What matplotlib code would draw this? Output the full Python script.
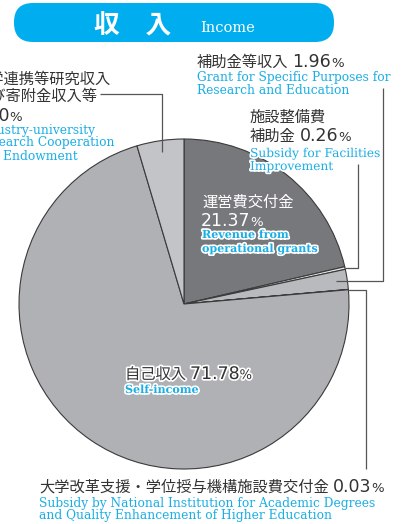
import numpy as np
import matplotlib.pyplot as plt
import matplotlib.patheffects as pe
from matplotlib.patches import FancyBboxPatch

W, H = 404, 524

# revenue shares, clockwise from 12 o'clock
labels_jp = ['運営費交付金', '施設整備費補助金', '補助金等収入',
             '大学改革支援・学位授与機構施設費交付金', '自己収入',
             '産学連携等研究収入及び寄附金収入等']
shares = [21.37, 0.26, 1.96, 0.03, 71.78, 4.60]
pct_txt = ['21.37', '0.26', '1.96', '0.03', '71.78', '4.60']
colors = ['#77787b', '#e4e4e6', '#b9babd', '#ffffff', '#b0b1b4', '#c3c4c7']

JP = ['Noto Sans CJK JP', 'DejaVu Sans']
NUM = 'DejaVu Sans'
EN = 'DejaVu Serif'
CYAN = '#1aaee6'
INK = '#333333'

fig = plt.figure(figsize=(W / 100, H / 100), dpi=100)

# pie: centre (184,304) radius 165 px
cx, cy, R = 184, 304, 165
ax = fig.add_axes([(cx - R) / W, (H - cy - R) / H, 2 * R / W, 2 * R / H], zorder=1)
wedges, _ = ax.pie(shares, colors=colors, startangle=90, counterclock=False,
                   wedgeprops=dict(edgecolor='#3a3a3a', linewidth=0.8))
ax.set_xlim(-1, 1)
ax.set_ylim(-1, 1)

top = fig.add_axes([0, 0, 1, 1], zorder=2)
top.set_xlim(0, W)
top.set_ylim(H, 0)
top.axis('off')

# title banner
top.add_patch(FancyBboxPatch((14, 3), 320, 39, boxstyle='round,pad=0,rounding_size=19',
                             facecolor='#00aeef', edgecolor='none'))
top.text(133, 33, '収　入', color='white', fontsize=18.5, fontweight='bold',
         family=JP, ha='center', va='baseline')
top.text(200, 32, 'Income', color='white', fontsize=10.5, family=EN, va='baseline')


def anchor(i, r):
    w = wedges[i]
    a = np.deg2rad((w.theta1 + w.theta2) / 2)
    return cx + R * r * np.cos(a), cy - R * r * np.sin(a)


def leader(i, r, pts):
    x0, y0 = anchor(i, r)
    xs = [x0] + [p[0] for p in pts]
    ys = [y0] + [p[1] for p in pts]
    top.plot(xs, ys, color='#555555', lw=0.9, solid_capstyle='butt')


x1, y1 = anchor(1, 1.0)
leader(1, 1.0, [(358, y1), (358, 164)])
x2, y2 = anchor(2, 0.93)
leader(2, 0.93, [(383, y2), (383, 88)])
x3, y3 = anchor(3, 1.0)
leader(3, 1.0, [(366, y3), (366, 469)])
x5, y5 = anchor(5, 0.93)
leader(5, 0.93, [(x5, 94), (100, 94)])

renderer = fig.canvas.get_renderer()
halo = [pe.withStroke(linewidth=2.4, foreground='white')]


def line(x, y, parts, color=INK, effects=None):
    for s, size, kind in parts:
        fam = JP if kind == 'jp' else NUM
        t = top.text(x, y, s, fontsize=size, family=fam, color=color, va='baseline')
        if effects:
            t.set_path_effects(effects)
        bb = t.get_window_extent(renderer)
        x += bb.width + (4 if kind == 'jp' else 0)


def en(x, y, s, bold=False, effects=None, size=8.8):
    t = top.text(x, y, s, fontsize=size, family=EN, color=CYAN, va='baseline',
                 fontweight='bold' if bold else 'normal')
    if effects:
        t.set_path_effects(effects)


JS, NS, PS = 11, 12.5, 9.5

# 補助金等収入
line(197, 67, [(labels_jp[2], JS, 'jp'), (pct_txt[2], NS, 'num'), ('%', PS, 'pct')])
en(197, 81, 'Grant for Specific Purposes for')
en(197, 94, 'Research and Education')

# 施設整備費補助金
line(250, 122, [(labels_jp[1][:5], JS, 'jp')])
line(250, 141, [(labels_jp[1][5:], JS, 'jp'), (pct_txt[1], NS, 'num'), ('%', PS, 'pct')])
en(250, 157, 'Subsidy for Facilities', effects=halo)
en(250, 170, 'Improvement', effects=halo)

# 産学連携等
line(-27, 84, [(labels_jp[5][:9], JS, 'jp')])
line(-25, 101, [(labels_jp[5][9:], JS, 'jp')])
line(-29, 121, [(pct_txt[5], NS, 'num'), ('%', PS, 'pct')])
en(-24, 134, 'Industry-university')
en(-24, 146, 'Research Cooperation')
en(-24, 160, 'and Endowment')

# 運営費交付金 (inside)
line(202, 207, [(labels_jp[0], JS, 'jp')], color='white')
line(201, 226, [(pct_txt[0], NS, 'num'), ('%', PS, 'pct')], color='white')
en(202, 238, 'Revenue from', bold=True, effects=halo, size=8)
en(202, 252, 'operational grants', bold=True, effects=halo, size=8)

# 自己収入 (inside)
line(125, 379, [(labels_jp[4], JS, 'jp'), (pct_txt[4], NS, 'num'), ('%', PS, 'pct')],
     effects=halo)
en(125, 393, 'Self-income', bold=True, effects=halo, size=8)

# 大学改革支援
line(39, 492, [(labels_jp[3], JS, 'jp'), (pct_txt[3], NS, 'num'), ('%', PS, 'pct')])
en(39, 507, 'Subsidy by National Institution for Academic Degrees')
en(39, 519, 'and Quality Enhancement of Higher Education')

fig.savefig('out.png', dpi=100, facecolor='white')
